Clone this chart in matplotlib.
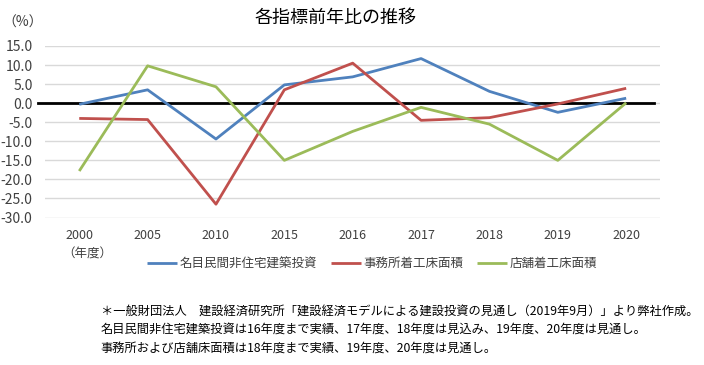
import numpy as np
import matplotlib
matplotlib.use('Agg')
from matplotlib import pyplot as plt

plt.rcParams['font.family'] = ['Noto Sans CJK JP', 'DejaVu Sans']

years = ['2000', '2005', '2010', '2015', '2016', '2017', '2018', '2019', '2020']
investment = [-0.3, 3.5, -9.4, 4.8, 6.9, 11.7, 3.1, -2.4, 1.3]
office = [-4.0, -4.3, -26.5, 3.5, 10.5, -4.5, -3.8, -0.2, 3.9]
store = [-17.8, 9.8, 4.3, -15.0, -7.4, -1.1, -5.5, -15.0, 0.1]
labels = ['名目民間非住宅建築投資', '事務所着工床面積', '店舗着工床面積']
colors = ['#4F81BD', '#C0504D', '#9BBB59']
notes = [
    '＊一般財団法人　建設経済研究所「建設経済モデルによる建設投資の見通し（2019年9月）」より弊社作成。',
    '名目民間非住宅建築投資は16年度まで実績、17年度、18年度は見込み、19年度、20年度は見通し。',
    '事務所および店舗床面積は18年度まで実績、19年度、20年度は見通し。',
]

fig = plt.figure(figsize=(7.04, 3.65), dpi=100)
ax = fig.add_axes([0.064, 0.404, 0.874, 0.470])

x = np.arange(len(years))
for vals, lab, c in zip([investment, office, store], labels, colors):
    ax.plot(x, vals, color=c, lw=2.0, label=lab, solid_capstyle='butt')

ax.set_xlim(-0.5, len(years) - 0.5)
ax.set_ylim(-30, 15)
ax.set_yticks(np.arange(-30, 15.1, 5))
ax.set_yticklabels(['%.1f' % v for v in np.arange(-30, 15.1, 5)])
ax.grid(axis='y', color='#D9D9D9', lw=1.0)
ax.set_axisbelow(True)
ax.axhline(0, xmin=-0.012, xmax=0.99, color='black', lw=2.0, clip_on=False, zorder=1.5)
ax.set_xticks(x)
ax.set_xticklabels(years)
ax.tick_params(length=0, colors='#404040')
ax.tick_params(axis='x', pad=8, labelsize=9)
ax.tick_params(axis='y', pad=9, labelsize=10)
for s in ax.spines.values():
    s.set_visible(False)

ax.text(0.12, -39.6, '（年度）', ha='center', va='center', fontsize=9, color='#404040')

fig.text(0.476, 0.952, '各指標前年比の推移', ha='center', va='center', fontsize=13)
fig.text(0.004, 0.938, '（%）', ha='left', va='center', fontsize=10, color='#404040')

fig.legend(loc='center', bbox_to_anchor=(0.529, 0.277), ncol=3, frameon=False,
           fontsize=9, handlelength=2.4, handletextpad=0.2, columnspacing=1.1,
           labelcolor='#404040')

for i, t in enumerate(notes):
    fig.text(0.143, 0.145 - i * 0.05, t, ha='left', va='center', fontsize=8.8)

fig.savefig('out.png', dpi=100)
